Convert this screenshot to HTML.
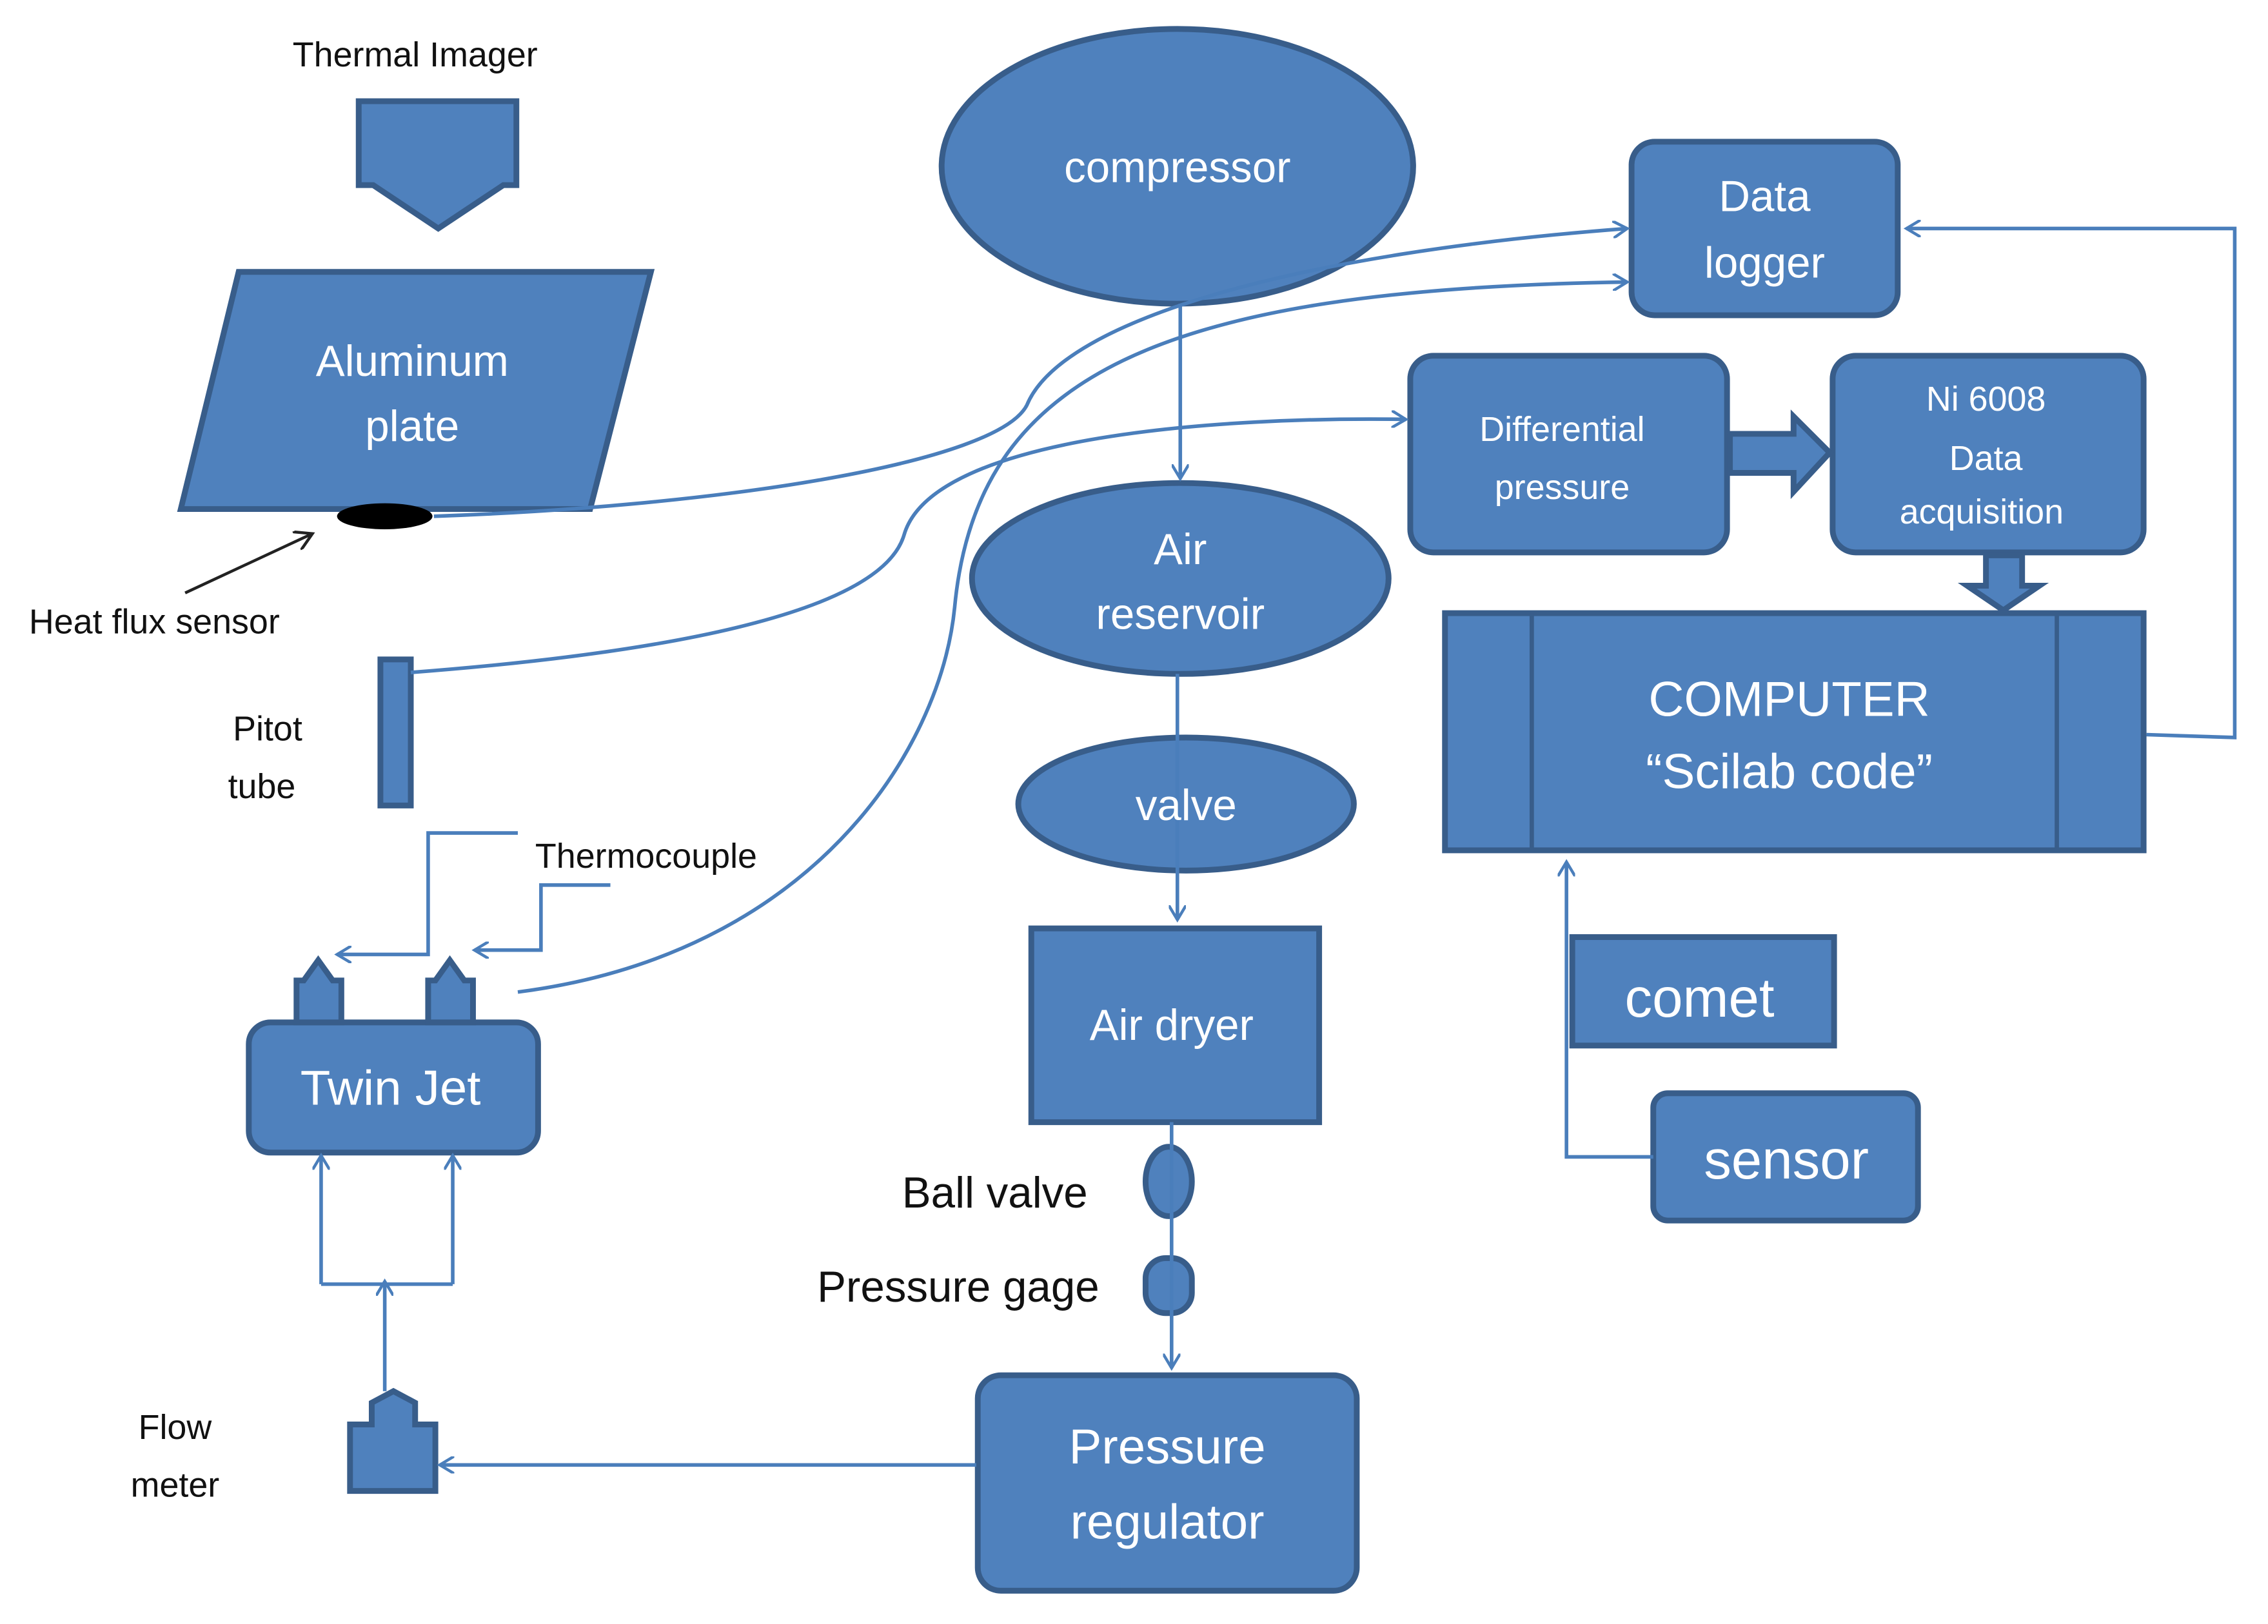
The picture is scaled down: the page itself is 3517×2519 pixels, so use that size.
<!DOCTYPE html>
<html><head><meta charset="utf-8"><style>
html,body{margin:0;padding:0;background:#fff;}
svg{display:block;}
text{font-family:"Liberation Sans",sans-serif;}
</style></head><body>
<svg width="3517" height="2519" viewBox="0 0 1568 1123" preserveAspectRatio="none" xmlns="http://www.w3.org/2000/svg">
<defs>
<marker id="a" markerWidth="12" markerHeight="12" refX="10" refY="6" orient="auto" markerUnits="userSpaceOnUse">
<path d="M0,0 L10,6 L0,12" fill="none" stroke="#4a7ebb" stroke-width="2"/></marker>
<marker id="b" markerWidth="14" markerHeight="14" refX="12" refY="7" orient="auto" markerUnits="userSpaceOnUse">
<path d="M0,0 L12,7 L0,14" fill="none" stroke="#222" stroke-width="2"/></marker>
</defs>
<g fill="#4f81bd" stroke="#385d8a" stroke-width="4">
<path d="M248,70 H357 V128 H348 L303,158 L258,128 H248 Z"/>
<path d="M165,188 H450 L408,352 H125 Z"/>
<rect x="263" y="456" width="21" height="101"/>
<rect x="172" y="707" width="200" height="90" rx="15"/>
<path d="M205,707 V678 H210 L220,664 L230,678 H236 V707 Z"/>
<path d="M296,707 V678 H301 L311,664 L321,678 H327 V707 Z"/>
<path d="M242,1031 V985 H257 V970 L272,962 L287,970 V985 H301 V1031 Z"/>
<ellipse cx="814" cy="115" rx="163" ry="95"/>
<ellipse cx="816" cy="400" rx="144" ry="66"/>
<ellipse cx="820" cy="556" rx="116" ry="46"/>
<rect x="713" y="642" width="199" height="134"/>
<ellipse cx="808" cy="817" rx="16" ry="24"/>
<rect x="792" y="870" width="32" height="38" rx="14"/>
<rect x="676" y="951" width="262" height="149" rx="16"/>
<rect x="1128" y="98" width="184" height="120" rx="16"/>
<rect x="975" y="246" width="219" height="136" rx="16"/>
<rect x="1267" y="246" width="215" height="136" rx="16"/>
<path d="M1196,300 H1240 V288 L1265,313 L1240,340 V327 H1196 Z"/>
<path d="M1373,384 H1398 V405 H1410 L1385,422 L1360,405 H1373 Z"/>
<rect x="999" y="424" width="483" height="164"/>
<rect x="1087" y="648" width="181" height="75"/>
<rect x="1143" y="756" width="183" height="88" rx="10"/>
</g>
<g stroke="#385d8a" stroke-width="3" fill="none">
<line x1="1059" y1="424" x2="1059" y2="588"/>
<line x1="1422" y1="424" x2="1422" y2="588"/>
</g>
<ellipse cx="266" cy="357" rx="33" ry="9" fill="#000"/>
<line x1="128" y1="410" x2="216" y2="369" stroke="#222" stroke-width="2" marker-end="url(#b)"/>
<g stroke="#4a7ebb" stroke-width="2.5" fill="none">
<path d="M816,210 V331" marker-end="url(#a)"/>
<path d="M814,466 V636" marker-end="url(#a)"/>
<path d="M810,776 V946" marker-end="url(#a)"/>
<path d="M358,576 H296 V660 H233" marker-end="url(#a)"/>
<path d="M422,612 H374 V657 H328" marker-end="url(#a)"/>
<path d="M222,888 V799" marker-end="url(#a)"/>
<path d="M313,888 V799" marker-end="url(#a)"/>
<path d="M222,888 H313"/>
<path d="M266,962 V886" marker-end="url(#a)"/>
<path d="M675,1013 H304" marker-end="url(#a)"/>
<path d="M1484,508 L1545,510 V158 H1318" marker-end="url(#a)"/>
<path d="M1143,800 H1083 V596" marker-end="url(#a)"/>
<path d="M300,357 C500,350 690,320 710,280 C735,220 900,175 1125,158" marker-end="url(#a)"/>
<path d="M284,465 C480,450 610,420 625,370 C645,300 850,288 972,290" marker-end="url(#a)"/>
<path d="M358,686 C560,660 650,520 660,420 C675,260 800,200 1125,195" marker-end="url(#a)"/>
</g>
<g fill="#fff" text-anchor="middle">
<text x="285" y="260" font-size="30">Aluminum</text>
<text x="285" y="305" font-size="30">plate</text>
<text x="270" y="764" font-size="34">Twin Jet</text>
<text x="814" y="126" font-size="30">compressor</text>
<text x="816" y="390" font-size="30">Air</text>
<text x="816" y="435" font-size="30">reservoir</text>
<text x="820" y="567" font-size="30">valve</text>
<text x="810" y="719" font-size="30">Air dryer</text>
<text x="807" y="1012" font-size="34">Pressure</text>
<text x="807" y="1064" font-size="34">regulator</text>
<text x="1220" y="146" font-size="30">Data</text>
<text x="1220" y="192" font-size="30">logger</text>
<text x="1080" y="305" font-size="24">Differential</text>
<text x="1080" y="345" font-size="24">pressure</text>
<text x="1373" y="284" font-size="24">Ni 6008</text>
<text x="1373" y="325" font-size="24">Data</text>
<text x="1370" y="362" font-size="24">acquisition</text>
<text x="1237" y="495" font-size="34">COMPUTER</text>
<text x="1237" y="545" font-size="34">“Scilab code”</text>
<text x="1175" y="703" font-size="38">comet</text>
<text x="1235" y="815" font-size="38">sensor</text>
</g>
<g fill="#111">
<text x="287" y="46" font-size="24" text-anchor="middle">Thermal Imager</text>
<text x="20" y="438" font-size="24">Heat flux sensor</text>
<text x="185" y="512" font-size="24" text-anchor="middle">Pitot</text>
<text x="181" y="552" font-size="24" text-anchor="middle">tube</text>
<text x="370" y="600" font-size="24">Thermocouple</text>
<text x="121" y="995" font-size="24" text-anchor="middle">Flow</text>
<text x="121" y="1035" font-size="24" text-anchor="middle">meter</text>
<text x="752" y="835" font-size="30" text-anchor="end">Ball valve</text>
<text x="760" y="900" font-size="30" text-anchor="end">Pressure gage</text>
</g>
</svg>
</body></html>
